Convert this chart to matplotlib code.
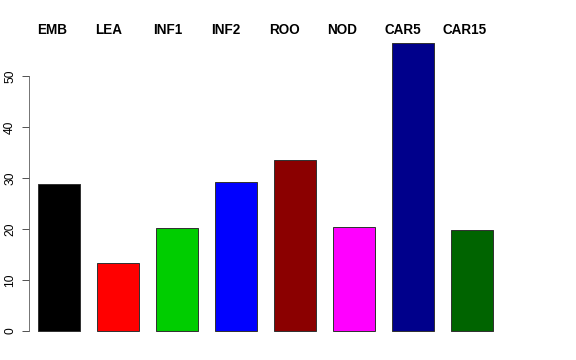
import matplotlib
matplotlib.use("Agg")
from matplotlib import pyplot as plt
import numpy as np

# data
categories = ["EMB", "LEA", "INF1", "INF2", "ROO", "NOD", "CAR5", "CAR15"]
values = [28.8, 13.3, 20.2, 29.2, 33.5, 20.4, 56.5, 19.8]
colors = ["#000000", "#FF0000", "#00CD00", "#0000FF",
          "#8B0000", "#FF00FF", "#00008B", "#006400"]

plt.rcParams['font.family'] = ['Liberation Sans', 'DejaVu Sans']

fig = plt.figure(figsize=(8, 5), dpi=72)
ax = fig.add_axes([29 / 576, 15 / 360, (510 - 29) / 576, (345 - 15) / 360])

x = np.arange(len(categories))
ax.bar(x, values, width=0.71, color=colors, edgecolor="#333333", linewidth=1)

ax.set_xlim(-0.508, 7.644)
ax.set_ylim(-2.745, 61.96)

# labels above the bars, left aligned
for i, name in enumerate(categories):
    ax.text(-0.373 + 0.983 * i, 1.0 - 15 / 330, name, transform=ax.get_xaxis_transform(),
            ha="left", va="center", fontsize=13.5, fontweight="bold")

for s in ["top", "right", "bottom"]:
    ax.spines[s].set_visible(False)
ax.spines["left"].set_bounds(0, 50)
ax.spines["left"].set_color("#555555")
ax.set_xticks([])
ax.set_yticks([0, 10, 20, 30, 40, 50])
ax.tick_params(axis="y", length=7, width=1, color="#555555", pad=6, labelsize=12)
for lab in ax.get_yticklabels():
    lab.set_rotation(90)
    lab.set_va("center")

fig.savefig("out.png", dpi=72)
